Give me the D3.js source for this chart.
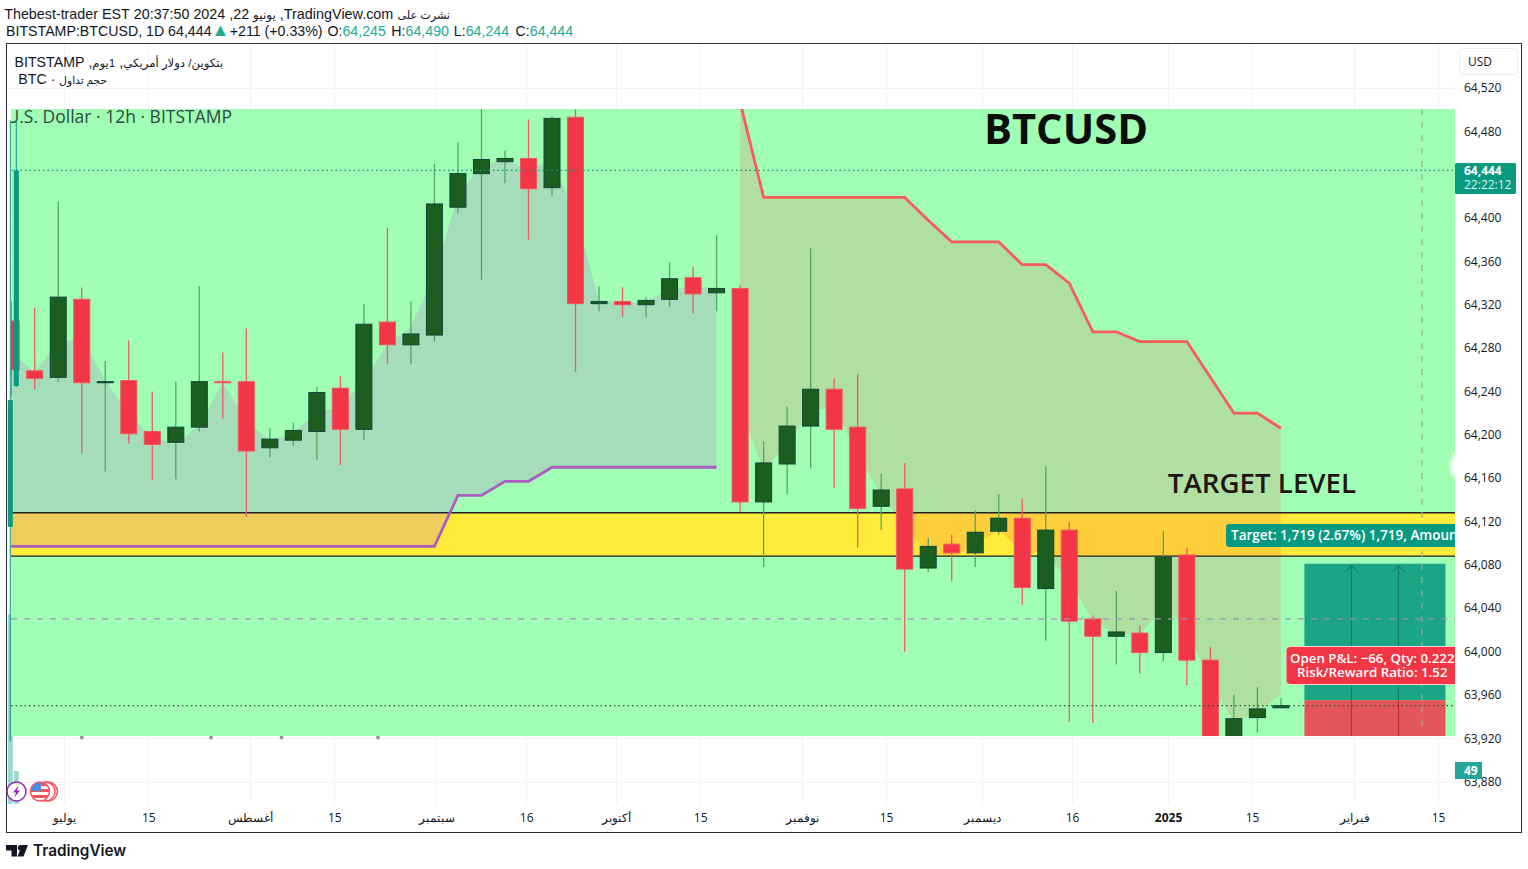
<!DOCTYPE html>
<html>
<head>
<meta charset="utf-8">
<script src="https://cdn.jsdelivr.net/npm/d3@7"></script>
<style>
  html, body { margin: 0; padding: 0; background: #fff; overflow: hidden; }
  svg { display: block; }
  text { font-family: "Open Sans", sans-serif; }
</style>
</head>
<body>
<div id="chart"></div>
<script>
// pasted 12h candles, one value per candle
const opens = [64305,64259,64253,64325,64248,64250,64203,64193,64207,64249,64249,64188,64195,64203,64243,64205,
  64304,64283,64292,64410,64441,64452,64455,64428,64493,64321,64323,64320,64325,64345,64331,64335,64138,64173,
  64208,64242,64207,64134,64150,64077,64099,64091,64111,64123,64058,64112,64030,64014,64017,63999,64089,63992,63890,63939,63948];
const highs = [64323,64317,64415,64336,64268,64287,64240,64249,64337,64276,64298,64206,64211,64244,64254,64321,
  64391,64323,64450,64470,64510,64462,64491,64494,64505,64337,64336,64327,64359,64355,64384,64338,64194,64226,
  64372,64252,64256,64164,64174,64105,64108,64130,64145,64141,64171,64119,64033,64056,64024,64111,64096,64004,63960,63967,63957];
const lows = [64235,64242,64249,64183,64166,64192,64158,64159,64203,64215,64124,64179,64190,64177,64172,64195,
  64265,64265,64286,64404,64343,64432,64380,64420,64258,64314,64309,64308,64318,64312,64314,64129,64078,64145,
  64169,64151,64096,64112,64000,64073,64065,64078,64108,64043,64010,63935,63934,63988,63980,63991,63969,63880,63880,63925,63948];
const closes = [64260,64252,64327,64248,64249,64201,64191,64207,64249,64248,64185,64196,64204,64239,64205,64302,
  64283,64293,64413,64441,64454,64455,64427,64492,64321,64323,64320,64324,64344,64330,64335,64138,64174,64208,
  64242,64205,64132,64149,64076,64097,64091,64110,64123,64059,64112,64028,64014,64018,63999,64087,63992,63890,63938,63947,63950];

// clouds, same candle index as above
const purpleTop = [64276,64258,64285,64289,64251,64218,64198,64191,64209,64248,64214,64194,64202,64221,64225,64251,
  64283,64300,64347,64421,64449,64454,64444,64454,64403,64324,64322,64322,64336,64336,64336];
const purpleLine = [64097,64097,64097,64097,64097,64097,64097,64097,64097,64097,64097,64097,64097,64097,64097,64097,
  64097,64097,64097,64144,64144,64157,64157,64170,64170,64170,64170,64170,64170,64170,64170];
const redLine = [64507,64419,64419,64419,64419,64419,64419,64419,64398,64378,64378,64378,64357,64357,64340,64295,
  64295,64286,64286,64286,64253,64220,64220,64206];
const redBottom = [64224,64168,64191,64221,64226,64181,64145,64115,64091,64087,64098,64112,64092,64091,64064,64029,
  64016,64016,64040,64022,63971,63935,63944,63960];
const redStart = 31;
const edgeMarks = [3, 8.5, 11.5, 15.6];

// real 1D candles at the far left
const dailyDates = ["2024-06-22", "2024-06-23"];
const dailyOpen = [64115, 64245];
const dailyHigh = [64490, 64490];
const dailyLow = [63917, 64244];
const dailyClose = [64232, 64444];
const dailyVolume = [190, 33];

const priceTicks = [64520,64480,64400,64360,64320,64280,64240,64200,64160,64120,64080,64040,64000,63960,63920,63880];
const timeTicks = ["2024-07-01","2024-07-15","2024-08-01","2024-08-15","2024-09-01","2024-09-16","2024-10-01","2024-10-15",
  "2024-11-01","2024-11-15","2024-12-01","2024-12-16","2025-01-01","2025-01-15","2025-02-01","2025-02-15"];
const timeLabels = ["يوليو","15","أغسطس","15","سبتمبر","16","أكتوبر","15","نوفمبر","15","ديسمبر","16","2025","15","فبراير","15"];

const bandTop = 64128, bandBottom = 64088;
const lastPrice = 64444, dashedPrice = 64030, dottedPrice = 63950;
const posStart = 55, posEnd = 61, posArrows = [57, 59], crossIndex = 60;
const posTarget = 64081, posEntry = 63955, posStop = 63880;

const W = 1528, H = 869;
const green = "#a0ffb4", teal = "#089981";

const svg = d3.select("#chart").append("svg").attr("width", W).attr("height", H);
const defs = svg.append("defs");
defs.append("clipPath").attr("id", "pic").append("rect")
  .attr("x", 11).attr("y", 109).attr("width", 1444).attr("height", 627);
defs.append("clipPath").attr("id", "pane").append("rect")
  .attr("x", 7).attr("y", 44).attr("width", 1448).attr("height", 788);
defs.append("clipPath").attr("id", "flag").append("circle").attr("cx", 40).attr("cy", 791.5).attr("r", 9);

const y = d3.scaleLinear().domain([63880, 64520]).range([781.5, 88]);
const x = d3.scaleUtc().domain([new Date("2024-07-01"), new Date("2025-02-15")]).range([64.3, 1438]);
const xc = d3.scaleLinear().domain([0, 54]).range([11.2, 1280.9]);

// grid
const grid = svg.append("g").attr("clip-path", "url(#pane)");
grid.selectAll("line.h").data(priceTicks).join("line").attr("class", "h")
  .attr("x1", 7).attr("x2", 1455).attr("y1", d => Math.round(y(d)) + .5).attr("y2", d => Math.round(y(d)) + .5)
  .attr("stroke", "#f0f3fa");
grid.selectAll("line.v").data(timeTicks).join("line").attr("class", "v")
  .attr("x1", d => Math.round(x(new Date(d))) + .5).attr("x2", d => Math.round(x(new Date(d))) + .5)
  .attr("y1", 44).attr("y2", 804).attr("stroke", "#f0f3fa");

// daily volume behind everything else on the left
svg.selectAll("rect.vol").data(dailyDates).join("rect").attr("class", "vol")
  .attr("x", d => x(new Date(d)) - 2.5).attr("width", 5)
  .attr("y", (d, i) => 804 - dailyVolume[i]).attr("height", (d, i) => dailyVolume[i])
  .attr("fill", "#9ad8d1");

// tips of something hidden under the picture's bottom edge
svg.selectAll("circle.edge").data(edgeMarks).join("circle").attr("class", "edge")
  .attr("cx", d => xc(d)).attr("cy", 737.5).attr("r", 2).attr("fill", "#8d9a95");

// the pasted picture
const pic = svg.append("g").attr("clip-path", "url(#pic)");
pic.append("rect").attr("x", 11).attr("y", 109).attr("width", 1444).attr("height", 627).attr("fill", green);

pic.append("rect").attr("x", 11).attr("width", 1444)
  .attr("y", y(bandTop)).attr("height", y(bandBottom) - y(bandTop)).attr("fill", "#ffeb3b");

const area1 = d3.area().x((d, i) => xc(i)).y0((d, i) => y(purpleLine[i])).y1(d => y(d));
pic.append("path").attr("d", area1(purpleTop)).attr("fill", "#b86dc8").attr("fill-opacity", .24);

const area2 = d3.area().x((d, i) => xc(i + redStart)).y0((d, i) => y(redBottom[i])).y1(d => y(d));
pic.append("path").attr("d", area2(redLine)).attr("fill", "#ff383e").attr("fill-opacity", .16);

[bandTop, bandBottom].forEach(p => {
  pic.append("line").attr("x1", 11).attr("x2", 1455).attr("y1", y(p)).attr("y2", y(p))
    .attr("stroke", "#1c2322").attr("stroke-width", 1.4);
});

pic.append("path").attr("fill", "none").attr("stroke", "#ab5cbe").attr("stroke-width", 2.8)
  .attr("d", d3.line().x((d, i) => xc(i)).y(d => y(d))(purpleLine));
pic.append("path").attr("fill", "none").attr("stroke", "#f55d5d").attr("stroke-width", 2.8)
  .attr("d", d3.line().x((d, i) => xc(i + redStart)).y(d => y(d))(redLine));

// candles
const candle = pic.selectAll("g.candle").data(opens).join("g").attr("class", "candle");
const isUp = i => closes[i] >= opens[i];
candle.append("line")
  .attr("x1", (d, i) => xc(i)).attr("x2", (d, i) => xc(i))
  .attr("y1", (d, i) => y(highs[i])).attr("y2", (d, i) => y(lows[i]))
  .attr("stroke", (d, i) => isUp(i) ? "#52a763" : "#ee5c68").attr("stroke-width", 1.3);
candle.append("rect")
  .attr("x", (d, i) => xc(i) - 8).attr("width", 16)
  .attr("y", (d, i) => y(Math.max(opens[i], closes[i])))
  .attr("height", (d, i) => Math.max(1, Math.abs(y(opens[i]) - y(closes[i]))))
  .attr("fill", (d, i) => isUp(i) ? "#1b5e20" : "#f23645")
  .attr("stroke", (d, i) => isUp(i) ? "#10453a" : "#f2555f").attr("stroke-width", 1);

// position box
pic.append("rect").attr("x", xc(posStart)).attr("width", xc(posEnd) - xc(posStart))
  .attr("y", y(posTarget)).attr("height", y(posEntry) - y(posTarget)).attr("fill", "#1ba585");
pic.append("rect").attr("x", xc(posStart)).attr("width", xc(posEnd) - xc(posStart))
  .attr("y", y(posEntry)).attr("height", y(posStop) - y(posEntry)).attr("fill", "#e5565c");
posArrows.forEach(a => {
  const ax = xc(a);
  pic.append("line").attr("x1", ax).attr("x2", ax).attr("y1", y(posTarget) + 2).attr("y2", y(posEntry))
    .attr("stroke", "#12806a").attr("stroke-width", 1.2);
  pic.append("line").attr("x1", ax).attr("x2", ax).attr("y1", y(posEntry)).attr("y2", 736)
    .attr("stroke", "#c92c3c").attr("stroke-width", 1.2);
  pic.append("path").attr("fill", "none").attr("stroke", "#12806a").attr("stroke-width", 1.2)
    .attr("d", `M${ax - 6},${y(posTarget) + 8}L${ax},${y(posTarget) + 2}L${ax + 6},${y(posTarget) + 8}`);
});

// price lines over the candles
pic.append("line").attr("x1", 11).attr("x2", 1455).attr("y1", y(dashedPrice)).attr("y2", y(dashedPrice))
  .attr("stroke", "#a58fb3").attr("stroke-width", 1.2).attr("stroke-dasharray", "6 7");
pic.append("line").attr("x1", 11).attr("x2", 1455).attr("y1", y(dottedPrice)).attr("y2", y(dottedPrice))
  .attr("stroke", "#1e5a38").attr("stroke-width", 1.2).attr("stroke-dasharray", "1.5 3");
pic.append("line").attr("x1", 7).attr("x2", 1455).attr("y1", y(lastPrice)).attr("y2", y(lastPrice))
  .attr("stroke", teal).attr("stroke-width", 1.2).attr("stroke-dasharray", "1.5 3");
pic.append("line").attr("x1", xc(crossIndex)).attr("x2", xc(crossIndex)).attr("y1", 109).attr("y2", 732)
  .attr("stroke", "#98a89e").attr("stroke-width", 1.2).attr("stroke-dasharray", "6 7");

// soft round spot on the right edge of the picture
pic.append("circle").attr("cx", 1468).attr("cy", 466).attr("r", 18).attr("fill", "#fff").attr("stroke", "#c8ffd4").attr("stroke-width", 3);

// picture captions
pic.append("text").attr("x", 232).attr("y", 123).attr("text-anchor", "end")
  .style("font-family", "'Open Sans'").style("font-size", "17.5px").attr("fill", "#2d4a42")
  .text("U.S. Dollar · 12h · BITSTAMP");
pic.append("text").attr("x", 1066).attr("y", 144).attr("text-anchor", "middle")
  .style("font-family", "'Open Sans'").style("font-weight", 700).style("font-size", "41.7px").attr("fill", "#0b0f0c")
  .text("BTCUSD");
pic.append("text").attr("x", 1262).attr("y", 493).attr("text-anchor", "middle")
  .style("font-family", "'Open Sans'").style("font-weight", 600).style("font-size", "27.7px").attr("fill", "#201512")
  .text("TARGET LEVEL");

// labels on the position box
const pane = svg.append("g").attr("clip-path", "url(#pane)");
pane.append("rect").attr("x", 1226).attr("y", 524).attr("width", 260).attr("height", 23).attr("rx", 3).attr("fill", teal);
pane.append("text").attr("x", 1231).attr("y", 540).attr("fill", "#fff")
  .style("font-size", "13.5px").style("font-weight", 600).text("Target: 1,719 (2.67%) 1,719, Amoun");
pane.append("rect").attr("x", 1286).attr("y", 646.5).attr("width", 230).attr("height", 38).attr("rx", 4)
  .attr("fill", "#f23645").attr("stroke", "#fbd5d8").attr("stroke-width", 1);
pane.append("text").attr("x", 1290).attr("y", 663).attr("fill", "#fff")
  .style("font-size", "13.3px").style("font-weight", 600).text("Open P&L: −66, Qty: 0.222");
pane.append("text").attr("x", 1297).attr("y", 677).attr("fill", "#fff")
  .style("font-size", "13.3px").style("font-weight", 600).text("Risk/Reward Ratio: 1.52");

// daily candles on top of the picture
dailyDates.forEach((d, i) => {
  const cx = x(new Date(d));
  svg.append("line").attr("x1", cx).attr("x2", cx).attr("y1", y(dailyHigh[i])).attr("y2", y(dailyLow[i]))
    .attr("stroke", teal).attr("stroke-width", 1);
  svg.append("rect").attr("x", cx - 2.5).attr("width", 5)
    .attr("y", y(dailyClose[i])).attr("height", y(dailyOpen[i]) - y(dailyClose[i])).attr("fill", teal);
});

// axes
const yAxis = d3.axisRight(y).tickValues(priceTicks).tickSize(0).tickPadding(9).tickFormat(d3.format(","));
const gy = svg.append("g").attr("transform", "translate(1455,0)").call(yAxis);
gy.select(".domain").remove();
gy.selectAll("text").style("font-size", "12px").style("font-family", "'Open Sans'").attr("fill", "#131722");

const xAxis = d3.axisBottom(x).tickValues(timeTicks.map(d => new Date(d))).tickSize(0).tickPadding(0)
  .tickFormat((d, i) => timeLabels[i]);
const gx = svg.append("g").attr("transform", "translate(0,813)").call(xAxis);
gx.select(".domain").remove();
gx.selectAll("text").style("font-size", "12px").attr("fill", "#131722")
  .style("font-weight", (d, i) => timeLabels[i] === "2025" ? 700 : 400);

// price tags
svg.append("rect").attr("x", 1455).attr("y", 163).attr("width", 61).attr("height", 31).attr("rx", 1.5).attr("fill", teal);
svg.append("text").attr("x", 1464).attr("y", 175).attr("fill", "#fff")
  .style("font-size", "12px").style("font-weight", 700).text("64,444");
svg.append("text").attr("x", 1464).attr("y", 189).attr("fill", "#dff3ee").style("font-size", "12px").text("22:22:12");
svg.append("rect").attr("x", 1455).attr("y", 762).attr("width", 27).attr("height", 17).attr("fill", "#26a69a");
svg.append("text").attr("x", 1464).attr("y", 775).attr("fill", "#fff")
  .style("font-size", "12px").style("font-weight", 700).text("49");
svg.append("rect").attr("x", 1459.5).attr("y", 48.5).attr("width", 58).attr("height", 26).attr("rx", 4)
  .attr("fill", "#fff").attr("stroke", "#e9ebf2");
svg.append("text").attr("x", 1468).attr("y", 66).attr("fill", "#131722").style("font-size", "12px").text("USD");

// frame
svg.append("rect").attr("x", 6.5).attr("y", 43.5).attr("width", 1515).attr("height", 789)
  .attr("fill", "none").attr("stroke", "#2a2e39");

// header, arabic runs are smaller because the fallback font is wide
const arial = "'Liberation Sans', 'DejaVu Sans'";
const rtlLine = (px, py, parts) => {
  const t = svg.append("text").attr("x", px).attr("y", py).attr("direction", "rtl").attr("fill", "#131722")
    .style("font-family", arial).style("font-size", "14.2px");
  parts.forEach(([s, size]) => t.append("tspan").style("font-size", size + "px").text(s));
};
rtlLine(450, 19, [["نشرت على", 11.2], [" TradingView.com, ", 14.4], ["يونيو", 12], [" 22, 2024 20:37:50 EST \u200FThebest-trader", 14.3]]);
rtlLine(223, 67, [["بتكوين/ دولار أمريكي", 11.7], [", ", 14.2], ["1يوم", 11.7], [", BITSTAMP", 14.2]]);
rtlLine(107, 84, [["حجم تداول", 10.6], [" · BTC", 14.2]]);

const head = svg.append("text").attr("x", 6).attr("y", 36).attr("fill", "#131722")
  .style("font-family", arial).style("font-size", "14.2px");
const headParts = [
  ["BITSTAMP:BTCUSD, 1D 64,444 ", "#131722", 0],
  ["▲", "#22ab94", -4],
  [" +211 (+0.33%)", "#131722", -3.5],
  [" O:", "#131722", 1],
  ["64,245", "#22ab94", 0],
  [" H:", "#131722", 1.5],
  ["64,490", "#22ab94", 0],
  [" L:", "#131722", 1],
  ["64,244", "#22ab94", 0],
  [" C:", "#131722", 2.5],
  ["64,444", "#22ab94", 0]
];
headParts.forEach(([s, col, dx]) => {
  const sp = head.append("tspan").attr("fill", col).attr("dx", dx).text(s);
  if (s === "▲") sp.style("font-size", "18px");
});

// event markers
[48, 45.5].forEach(cx => {
  svg.append("circle").attr("cx", cx).attr("cy", 791.5).attr("r", 9.5).attr("fill", "#fff").attr("stroke", "#f7525f").attr("stroke-width", 1.5);
});
svg.append("circle").attr("cx", 40).attr("cy", 791.5).attr("r", 9.5).attr("fill", "#fff").attr("stroke", "#f7525f").attr("stroke-width", 1.5);
const flag = svg.append("g").attr("clip-path", "url(#flag)");
[783, 789, 795].forEach(fy => flag.append("rect").attr("x", 30).attr("y", fy).attr("width", 20).attr("height", 3).attr("fill", "#f7525f"));
flag.append("rect").attr("x", 31).attr("y", 782).attr("width", 10).attr("height", 9).attr("fill", "#4a90e2");
svg.append("circle").attr("cx", 16.5).attr("cy", 791.5).attr("r", 9.5).attr("fill", "#fff").attr("stroke", "#9c27b0").attr("stroke-width", 1.5);
svg.append("path").attr("d", "M18.5,785.5L13,792.5H16L14.5,797.5L20,790.5H17Z").attr("fill", "#9c27b0");

// logo
svg.append("path").attr("fill", "#131722").attr("d", "M6,845H17V856.5H11.5V850.5H6Z");
svg.append("circle").attr("cx", 20.5).attr("cy", 847.7).attr("r", 2.7).attr("fill", "#131722");
svg.append("path").attr("fill", "#131722").attr("d", "M22,845H28L23.5,856.5H17.5Z");
svg.append("text").attr("x", 33).attr("y", 856).attr("fill", "#131722")
  .style("font-family", "Inter").style("font-size", "15.3px").style("font-weight", 600).text("TradingView");
</script>
</body>
</html>
